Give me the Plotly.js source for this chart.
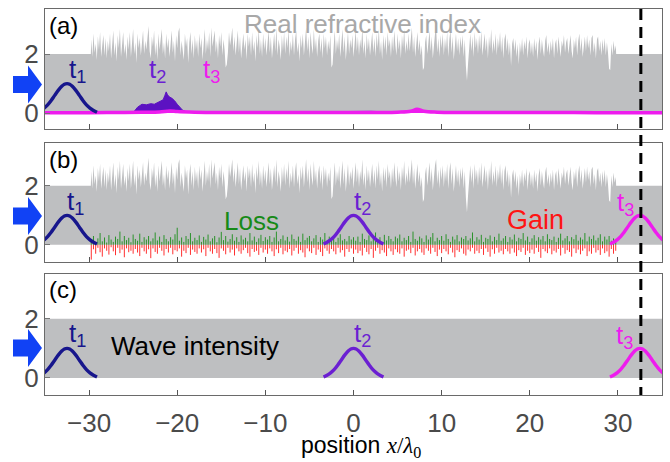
<!DOCTYPE html>
<html>
<head>
<meta charset="utf-8">
<script src="https://cdn.plot.ly/plotly-3.0.1.min.js"></script>
<style>html,body{margin:0;padding:0;background:#fff;}</style>
</head>
<body>
<div id="chart" style="width:670px;height:462px;"></div>
<script>
// ---------------- data ----------------
// real refractive index inside the disordered region (panels a and b), sampled from x = -29.75 in steps of 0.125
const indexStart = -29.75;
const indexStep = 0.125;
const indexVals = [
 2.5,1.9,2.7,2.05,2.35,1.8,2.6,2.15,2.75,1.9,2.3,2.65,1.95,2.55,1.85,2.45,
 2.1,2.7,1.85,2.5,2.8,1.95,2.4,1.75,2.65,2.2,2.85,1.9,2.45,2.75,2.0,2.35,
 1.8,2.6,2.15,2.75,1.9,2.45,2.85,2.0,2.4,1.7,2.7,2.2,2.55,1.95,2.5,2.8,
 2.0,2.45,2.15,2.7,2.95,2.1,1.85,2.6,2.25,2.8,1.95,2.4,1.8,2.7,2.15,2.5,
 2.85,2.0,2.4,1.85,2.7,2.2,2.55,1.9,2.5,2.8,2.05,2.45,1.75,2.65,2.2,2.75,
 2.9,1.95,2.45,2.1,1.8,2.7,2.25,2.55,1.7,2.4,2.75,2.0,2.5,1.85,2.65,2.15,
 2.5,1.9,2.7,2.2,2.55,1.8,2.4,2.85,2.0,2.5,2.15,2.75,1.9,2.9,2.25,2.55,
 2.8,2.05,2.45,1.85,2.65,2.25,2.75,1.95,2.5,2.15,1.55,1.65,2.05,2.75,2.3,2.55,
 2.9,2.1,2.6,1.95,2.45,2.8,2.05,2.6,1.85,2.4,2.7,2.15,2.5,1.8,2.7,2.25,
 2.6,1.95,2.75,2.1,2.45,1.75,2.65,2.2,2.85,2.0,2.5,1.9,2.7,2.15,2.55,1.95,
 2.45,2.8,2.05,2.6,1.85,2.4,2.7,2.1,2.9,1.95,2.5,2.25,1.8,2.65,2.1,2.75,
 2.0,2.6,2.2,2.85,1.9,2.45,2.1,2.7,1.95,2.5,2.8,2.05,2.4,1.75,2.65,2.2,
 2.7,1.95,2.5,2.9,2.1,2.6,1.85,2.75,2.3,2.0,2.85,2.15,2.55,1.9,2.45,2.7,
 2.05,2.55,1.85,2.7,2.2,2.6,1.95,2.45,2.15,2.65,1.55,1.65,2.25,2.8,2.0,2.5,
 2.15,2.7,1.9,2.45,2.85,2.05,2.6,1.8,2.4,2.75,2.0,2.5,2.2,2.65,1.9,2.45,
 2.8,2.1,2.6,1.95,2.5,2.2,2.9,2.0,2.45,1.85,2.7,2.15,2.55,1.95,2.4,2.75,
 2.05,2.55,1.9,2.7,2.2,2.85,2.0,2.45,1.8,2.65,2.15,2.6,1.95,2.75,2.25,2.5,
 1.9,2.6,2.1,2.8,2.3,1.95,2.7,2.15,2.5,1.85,2.65,2.2,2.85,2.0,2.45,2.1,
 2.7,2.1,2.5,2.9,2.05,2.6,1.9,2.4,2.75,2.1,2.5,1.95,2.3,1.45,1.55,2.4,
 2.65,2.0,2.45,2.8,2.1,2.6,1.85,2.4,2.7,2.9,2.05,2.55,1.9,2.65,2.2,2.7,
 1.95,2.55,2.15,2.75,1.9,2.5,2.8,2.05,2.6,1.8,2.45,2.7,2.1,2.55,1.95,2.6,
 2.2,2.65,1.9,2.5,1.6,1.1,1.7,2.4,2.7,2.1,2.6,1.9,2.75,2.2,2.55,2.0,
 2.65,2.15,2.8,1.95,2.5,2.7,2.1,2.55,1.85,2.6,2.2,2.85,2.0,2.5,2.1,2.7,
 1.95,2.55,2.2,2.75,2.05,2.6,1.85,2.5,2.7,2.1,2.55,1.95,2.4,1.6,2.35,2.55,
 2.1,2.5,1.9,2.35,1.65,2.4,2.05,2.55,1.95,2.45,2.15,2.6,1.85,2.35,2.5,2.0,
 2.4,1.9,2.55,2.1,2.45,1.8,2.35,2.6,2.0,2.5,2.15,1.9,2.45,2.65,2.05,2.4,
 1.95,2.45,2.1,2.55,1.85,2.35,2.5,2.0,2.6,2.15,1.9,2.45,2.25,2.65,2.05,2.4,
 2.55,2.0,2.45,2.65,2.1,1.85,2.5,2.2,2.6,1.95,2.45,2.7,2.1,2.55,1.9,2.4,
 2.6,2.1,2.65,2.2,2.5,1.95,2.55,2.65,2.05,2.4,1.85,2.5,2.6,2.1,2.45,1.95,
 2.5,2.1,2.55,1.95,2.4,2.05,1.5,1.45,2.35,1.95,2.45,2.1,2.3
];
// uniform index outside the disordered region
const outerX = [-35, -29.8, 29.8, 35];
const outerIndex = 2.0;
// imaginary part, sampled from x = -29.75 in steps of 0.25: loss (green, up) and gain (red, down)
const imagStart = -29.75;
const imagStep = 0.25;
const lossVals = [
 0.15,0.3,0.1,0.22,0.4,0.12,0.25,0.08,0.33,0.18,
 0.1,0.28,0.2,0.45,0.12,0.3,0.16,0.24,0.09,0.35,
 0.2,0.14,0.38,0.1,0.26,0.18,0.3,0.12,0.22,0.42,
 0.15,0.28,0.1,0.33,0.2,0.12,0.26,0.18,0.36,0.58,
 0.14,0.25,0.1,0.3,0.2,0.4,0.12,0.24,0.16,0.32,
 0.1,0.27,0.18,0.35,0.12,0.22,0.3,0.09,0.25,0.44,
 0.16,0.3,0.11,0.2,0.36,0.14,0.26,0.1,0.32,0.18,
 0.24,0.12,0.4,0.15,0.28,0.1,0.22,0.34,0.13,0.26,
 0.18,0.3,0.1,0.25,0.45,0.12,0.2,0.32,0.15,0.27,
 0.11,0.35,0.2,0.14,0.28,0.1,0.38,0.16,0.24,0.3,
 0.12,0.22,0.33,0.1,0.26,0.18,0.4,0.14,0.28,0.2,
 0.3,0.1,0.24,0.36,0.15,0.2,0.12,0.3,0.18,0.26,
 0.14,0.28,0.1,0.38,0.2,0.16,0.32,0.12,0.25,0.42,
 0.18,0.26,0.1,0.34,0.15,0.3,0.2,0.12,0.28,0.22,
 0.35,0.12,0.24,0.16,0.3,0.1,0.45,0.2,0.14,0.28,
 0.22,0.1,0.32,0.18,0.26,0.4,0.12,0.24,0.16,0.3,
 0.14,0.36,0.2,0.1,0.28,0.18,0.33,0.12,0.25,0.2,
 0.3,0.15,0.22,0.42,0.12,0.26,0.18,0.34,0.1,0.24,
 0.2,0.32,0.12,0.27,0.16,0.38,0.14,0.22,0.3,0.1,
 0.26,0.18,0.35,0.12,0.24,0.2,0.4,0.15,0.28,0.1,
 0.22,0.33,0.14,0.26,0.18,0.3,0.12,0.36,0.2,0.16,
 0.28,0.1,0.24,0.38,0.15,0.22,0.3,0.12,0.26,0.19,
 0.34,0.14,0.25,0.18,0.4,0.12,0.28,0.2,0.32,0.15,
 0.24,0.36,0.12,0.28,0.18,0.3,0.14,0.22,0.1
];
const gainVals = [
 -0.5,-0.15,-0.3,-0.1,-0.25,-0.4,-0.12,-0.2,-0.33,-0.08,
 -0.22,-0.35,-0.1,-0.28,-0.16,-0.42,-0.12,-0.25,-0.2,-0.3,
 -0.14,-0.26,-0.38,-0.1,-0.22,-0.3,-0.15,-0.45,-0.12,-0.24,
 -0.3,-0.1,-0.2,-0.36,-0.14,-0.26,-0.1,-0.32,-0.18,-0.22,
 -0.12,-0.4,-0.2,-0.28,-0.1,-0.34,-0.16,-0.24,-0.3,-0.12,
 -0.26,-0.15,-0.38,-0.1,-0.22,-0.3,-0.14,-0.28,-0.44,-0.12,
 -0.2,-0.32,-0.1,-0.26,-0.16,-0.36,-0.12,-0.22,-0.3,-0.18,
 -0.1,-0.28,-0.4,-0.14,-0.24,-0.2,-0.34,-0.1,-0.26,-0.16,
 -0.3,-0.12,-0.22,-0.38,-0.15,-0.28,-0.1,-0.32,-0.2,-0.25,
 -0.14,-0.36,-0.2,-0.1,-0.3,-0.18,-0.26,-0.42,-0.12,-0.22,
 -0.28,-0.1,-0.34,-0.16,-0.24,-0.38,-0.12,-0.2,-0.3,-0.14,
 -0.22,-0.32,-0.1,-0.26,-0.18,-0.4,-0.14,-0.24,-0.12,-0.3,
 -0.16,-0.28,-0.2,-0.36,-0.1,-0.24,-0.32,-0.14,-0.44,-0.2,
 -0.1,-0.3,-0.18,-0.26,-0.38,-0.12,-0.22,-0.34,-0.15,-0.25,
 -0.3,-0.12,-0.4,-0.2,-0.16,-0.28,-0.1,-0.36,-0.22,-0.14,
 -0.26,-0.34,-0.12,-0.2,-0.3,-0.1,-0.24,-0.38,-0.16,-0.28,
 -0.14,-0.22,-0.32,-0.1,-0.26,-0.42,-0.18,-0.24,-0.12,-0.3,
 -0.36,-0.16,-0.22,-0.1,-0.3,-0.2,-0.28,-0.14,-0.34,-0.12,
 -0.24,-0.4,-0.15,-0.3,-0.1,-0.26,-0.2,-0.32,-0.14,-0.22,
 -0.3,-0.12,-0.26,-0.38,-0.18,-0.24,-0.1,-0.34,-0.2,-0.28,
 -0.16,-0.3,-0.1,-0.24,-0.44,-0.14,-0.22,-0.28,-0.12,-0.32,
 -0.2,-0.26,-0.14,-0.36,-0.1,-0.3,-0.18,-0.24,-0.4,-0.12,
 -0.28,-0.16,-0.32,-0.2,-0.12,-0.38,-0.22,-0.3,-0.1,-0.26,
 -0.18,-0.34,-0.12,-0.28,-0.22,-0.4,-0.14,-0.3,-0.2
];
// panel c: uniform medium
const bandX = [-35, 35];
const bandY = [2, 2];
// wave-packet intensity profile (offset from packet centre, normalised intensity)
const packetOffset = [-3.4,-3.0,-2.6,-2.2,-1.8,-1.4,-1.0,-0.6,-0.3,0,0.3,0.6,1.0,1.4,1.8,2.2,2.6,3.0,3.4];
const packetShape  = [0.03,0.09,0.17,0.28,0.43,0.6,0.77,0.91,0.98,1.0,0.98,0.91,0.77,0.6,0.43,0.28,0.17,0.09,0.03];
// packet centres at times t1, t2, t3
const packetCentres = [-32.5, 0, 32.5];
const timeLabels = ['t<sub>1</sub>', 't<sub>2</sub>', 't<sub>3</sub>'];
// panel a: scattered intensity at t2 and t3 in the Hermitian disordered medium
const scatT2X = [-25.5,-24.9,-24.5,-24.0,-23.5,-23.0,-22.6,-22.2,-21.9,-21.6,-21.4,-21.25,-21.1,-20.9,-20.6,-20.3,-20.0,-19.7,-19.4,-19.0,-18.0,-15,-10,-5,-2,0,2,4,6,10,20,35];
const scatT2Y = [0.02,0.05,0.2,0.3,0.28,0.32,0.3,0.36,0.42,0.45,0.6,0.72,0.62,0.55,0.5,0.42,0.3,0.2,0.1,0.05,0.04,0.03,0.03,0.04,0.05,0.07,0.06,0.04,0.03,0.03,0.03,0.02];
const scatT3X = [-35,-30,-27,-24,-22,-20.8,-20,-18,-15,-10,-5,0,3,5,6.5,7.2,8,9.5,12,15,20,25,30,35];
const scatT3Y = [0.01,0.01,0.02,0.03,0.04,0.07,0.05,0.03,0.02,0.02,0.02,0.02,0.02,0.03,0.06,0.13,0.06,0.03,0.02,0.02,0.02,0.02,0.01,0.01];
// time of the snapshot marked by the dashed line
const markerX = 32.6;

// ---------------- styles ----------------
const GRAY = '#bebfc1';
const C1 = '#17168c', C2 = '#6b1fd2', C3 = '#ee1cee';
const BLOB = '#5c12c2';
const GREEN = '#2b932b', RED = '#ff3030';
const ARROW = '#1142f5';
const FONT = 'Liberation Sans, Arial, Helvetica, sans-serif';

const idxGrid = indexVals.map((_, i) => indexStart + indexStep * i);
const profX = [outerX[0], outerX[1], ...idxGrid, outerX[2], outerX[3]];
const profY = [outerIndex, outerIndex, ...indexVals, outerIndex, outerIndex];

const imGrid = lossVals.map((_, i) => imagStart + imagStep * i);
function spikes(vals) {
  const x = [], y = [];
  imGrid.forEach((g, i) => { x.push(g, g, null); y.push(0, vals[i], null); });
  return {x, y};
}
const lossS = spikes(lossVals), gainS = spikes(gainVals);

const ax = ['x', 'x2', 'x3'], ay = ['y', 'y2', 'y3'];
const traces = [];
function packet(i, p, clr) {
  traces.push({type:'scatter', mode:'lines', x: packetOffset.map(o => packetCentres[i] + o), y: packetShape,
    line:{color: clr, width: 3.4, shape:'spline'}, xaxis: ax[p], yaxis: ay[p], hoverinfo:'skip'});
}
// panel a
traces.push({type:'scatter', mode:'lines', x: profX, y: profY, fill:'tozeroy', fillcolor: GRAY,
  line:{width:0, color: GRAY}, xaxis:'x', yaxis:'y', hoverinfo:'skip'});
traces.push({type:'scatter', mode:'lines', x: scatT2X, y: scatT2Y, fill:'tozeroy', fillcolor: BLOB,
  line:{width:1, color: BLOB}, xaxis:'x', yaxis:'y', hoverinfo:'skip'});
traces.push({type:'scatter', mode:'lines', x: scatT3X, y: scatT3Y, fill:'tozeroy', fillcolor: C3,
  line:{width:3.5, color: C3, shape:'spline'}, xaxis:'x', yaxis:'y', hoverinfo:'skip'});
packet(0, 0, C1);
// panel b
traces.push({type:'scatter', mode:'lines', x: profX, y: profY, fill:'tozeroy', fillcolor: GRAY,
  line:{width:0, color: GRAY}, xaxis:'x2', yaxis:'y2', hoverinfo:'skip'});
traces.push({type:'scatter', mode:'lines', x: lossS.x, y: lossS.y, connectgaps:false,
  line:{width:1, color: GREEN}, xaxis:'x2', yaxis:'y2', hoverinfo:'skip'});
traces.push({type:'scatter', mode:'lines', x: gainS.x, y: gainS.y, connectgaps:false,
  line:{width:1, color: RED}, xaxis:'x2', yaxis:'y2', hoverinfo:'skip'});
packet(0, 1, C1); packet(1, 1, C2); packet(2, 1, C3);
// panel c
traces.push({type:'scatter', mode:'lines', x: bandX, y: bandY, fill:'tozeroy', fillcolor: GRAY,
  line:{width:0, color: GRAY}, xaxis:'x3', yaxis:'y3', hoverinfo:'skip'});
packet(0, 2, C1); packet(1, 2, C2); packet(2, 2, C3);

// ---------------- layout ----------------
const L = 45, R = 662, T = 9, B = 395;
const W = 670, H = 462;
const pxX = p => (p - L) / (R - L);
const pxY = p => (B - p) / (B - T);

function xAxis(anchor, labels) {
  return {anchor, range:[-35, 35], tickvals:[-30,-20,-10,0,10,20,30], ticks:'inside', ticklen:5,
    tickcolor:'#555', tickwidth:1, showline:true, mirror:true, linecolor:'#6a6a6a', linewidth:1,
    showgrid:false, zeroline:false, showticklabels: labels,
    tickfont:{family: FONT, size: 26, color:'#4a4a4a'}, ticklabelstandoff: 5};
}
function yAxis(anchor, dom, rng) {
  return {anchor, domain: dom, range: rng, tickvals:[0,2], ticks:'inside', ticklen:5,
    tickcolor:'#777', showline:true, mirror:true, linecolor:'#6a6a6a', linewidth:1,
    showgrid:false, zeroline:false, tickfont:{family: FONT, size: 26, color:'#4a4a4a'}};
}

const shapes = [];
[84.5, 216, 348].forEach(cy => {
  const pts = [[13, cy-8.5],[28, cy-8.5],[28, cy-19],[42, cy],[28, cy+19],[28, cy+8.5],[13, cy+8.5]];
  const d = 'M ' + pts.map(p => pxX(p[0]).toFixed(5) + ',' + pxY(p[1]).toFixed(5)).join(' L ') + ' Z';
  shapes.push({type:'path', xref:'paper', yref:'paper', path: d, fillcolor: ARROW, line:{width:0}, layer:'above'});
});
shapes.push({type:'line', xref:'x3', yref:'paper', x0: markerX, x1: markerX, y0: 1, y1: 0,
  line:{color:'#000', width:3, dash:'11px,7px'}, layer:'above'});

const ann = [];
function pann(text, px, py, size, color, xanchor) {
  ann.push({text, x: pxX(px), y: pxY(py), xref:'paper', yref:'paper', showarrow:false,
    xanchor: xanchor || 'center', yanchor:'middle', font:{family: FONT, size, color}});
}
pann('(a)', 47, 25, 24, '#000', 'left');
pann('(b)', 47, 160, 24, '#000', 'left');
pann('(c)', 47, 290, 24, '#000', 'left');
pann('Real refractive index', 362, 24, 26, '#a8a8a8');
pann('Loss', 251, 221, 26, '#178a17');
pann('Gain', 535, 220, 27, '#ff1414');
pann('Wave intensity', 195, 346, 26, '#000');
pann('position <span style="font-family:\'Liberation Serif\',serif"><i>x</i>/<i>λ</i><sub>0</sub></span>', 361, 446, 23, '#000');

// time labels (data coordinates of each panel)
const tLab = [
  [0, 0, -31.3, 1.45, C1], [1, 0, -22.2, 1.45, C2], [2, 0, -16.1, 1.43, C3],
  [0, 1, -31.5, 1.42, C1], [1, 1, 1.0, 1.42, C2], [2, 1, 30.9, 1.4, C3],
  [0, 2, -31.3, 1.46, C1], [1, 2, 1.05, 1.48, C2], [2, 2, 30.7, 1.4, C3]
];
tLab.forEach(t => ann.push({text: timeLabels[t[0]], x: t[2], y: t[3], xref: ax[t[1]], yref: ay[t[1]],
  showarrow:false, xanchor:'center', yanchor:'middle', font:{family: FONT, size: 26, color: t[4]}}));

const layout = {
  width: W, height: H, margin:{l: L, r: W - R, t: T, b: H - B}, showlegend:false,
  paper_bgcolor:'#fff', plot_bgcolor:'#fff',
  xaxis: xAxis('y', false), xaxis2: xAxis('y2', false), xaxis3: xAxis('y3', true),
  yaxis: yAxis('x', [0.6891, 1], [-0.54, 3.53]),
  yaxis2: yAxis('x2', [0.3446, 0.6528], [-0.58, 3.45]),
  yaxis3: yAxis('x3', [0, 0.3135], [-0.58, 3.52]),
  shapes, annotations: ann
};

Plotly.newPlot('chart', traces, layout, {staticPlot:true, displayModeBar:false});
</script>
</body>
</html>
